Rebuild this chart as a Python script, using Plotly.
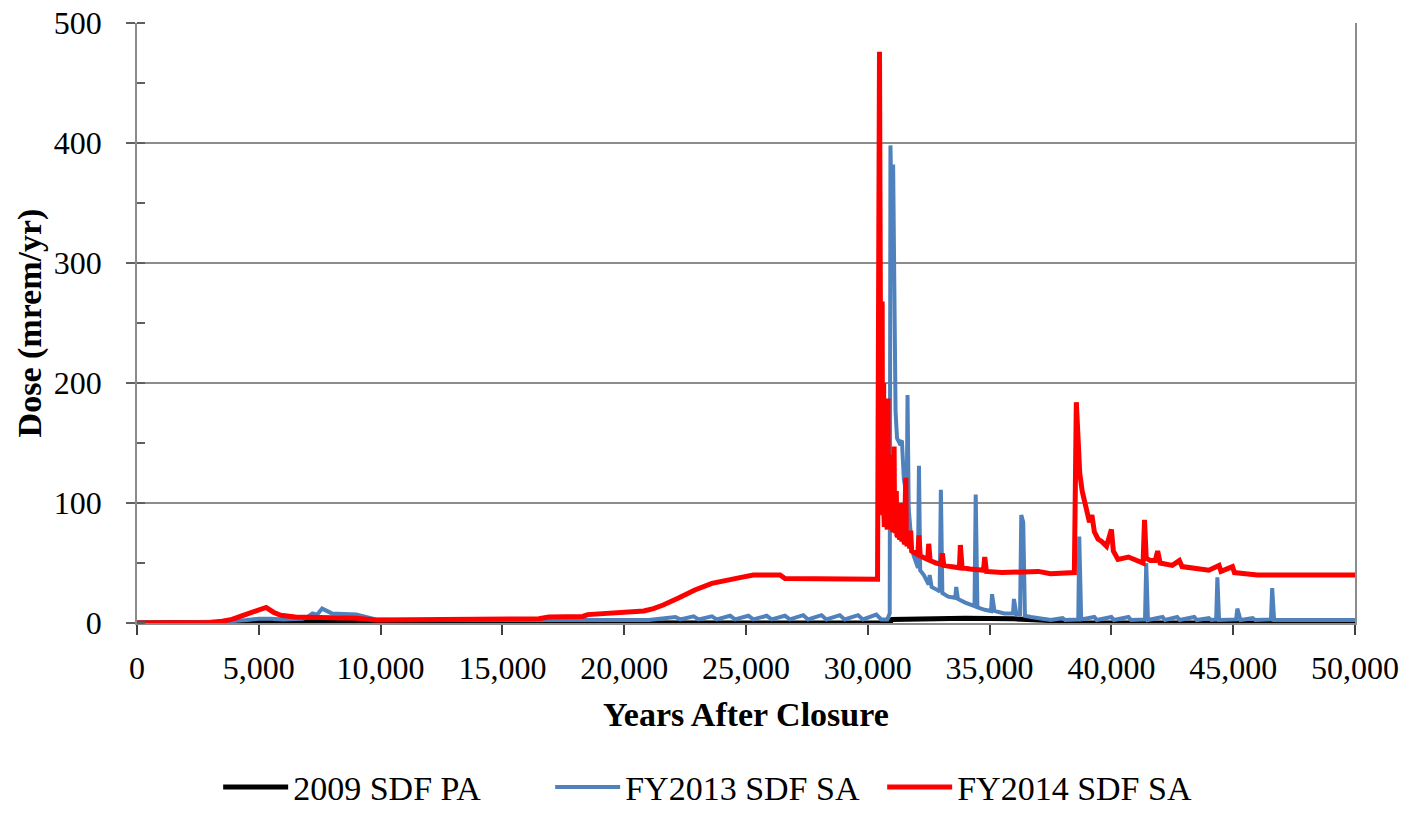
import plotly.graph_objects as go

# ---- data ----
pa2009_x = [0, 4500, 5000, 5500, 6500, 7000, 9000, 9500, 30900, 31000, 34000, 36000, 37500, 38000, 50000]
pa2009_y = [0, 0.5, 1.5, 1, 0.5, 1, 1, 0.3, 0, 3, 4, 3.5, 2, 0, 0]

fy2013_x = [0, 2800, 3500, 4500, 5000, 5500, 6000, 6800, 7000, 7200, 7400, 7600, 7800, 8000, 8500,
            9000, 9400, 9800, 10500, 15000, 20000, 21000,
            22100, 22300, 22850, 23050, 23600, 23800, 24350, 24550, 25100, 25300, 25850, 26050,
            26600, 26800, 27350, 27550, 28100, 28300, 28850, 29050, 29600, 29800, 30350, 30550, 30800,
            30900, 30930, 30990, 31040, 31090, 31140, 31200, 31300, 31400, 31480, 31560, 31600, 31630,
            31680, 31740, 31800, 31900, 32000, 32060, 32100, 32150, 32300, 32450, 32500, 32540, 32620,
            32900, 32950, 33000, 33060, 33300, 33590, 33630, 33700, 34000, 34300, 34380, 34430, 34500,
            34800, 35060, 35100, 35200, 35600, 35960, 36000, 36100, 36250, 36300, 36380, 36450, 36700,
            37000, 37300, 37500, 38000, 38100, 38600, 38640, 38680, 38760, 39300, 39400, 40000, 40100,
            40700, 40800, 41380, 41430, 41500, 42100, 42200, 42700, 42800, 43400, 43500, 44000, 44100,
            44300, 44350, 44420, 45120, 45170, 45300, 45800, 45900, 46550, 46600, 46680, 50000]
fy2013_y = [0, 0.5, 1, 2.5, 3.5, 3.5, 3, 3.5, 5, 8, 7, 12, 10, 8, 7.5,
            7, 5, 3, 2.5, 2.5, 2.5, 2.5,
            5, 3, 5.5, 3, 5.5, 3, 6, 3, 6, 3, 6, 3,
            6, 3, 6.5, 3, 6.5, 3, 6.5, 3, 6.5, 3, 7, 3, 3,
            8, 398, 330, 382, 290, 176, 154, 150, 152, 120, 110, 100, 190,
            95, 80, 62, 55, 48, 46, 131, 44, 40, 33, 32, 40, 30,
            27, 26, 111, 25, 22, 21, 30, 20, 17, 14, 14, 107, 13,
            11, 10, 24, 10, 8, 8, 20, 7, 7, 90, 84, 6, 5,
            4, 3, 2.5, 4, 2.5, 3, 3, 72, 3, 5, 2.5, 5, 2.5,
            5, 2.5, 3, 50, 2.5, 5, 2.5, 5, 2.5, 5, 2.5, 4, 2.5,
            3, 38, 2.5, 3, 12, 2.5, 4, 2.5, 3, 29, 2.5, 2.5]

fy2014_x = [0, 2700, 3000, 3500, 3900, 4300, 4600, 5000, 5300, 5600, 5900, 6500, 7500, 9000, 9800,
            12000, 13000, 16500, 16900, 18300, 18500, 19600, 20000, 20800, 21200, 21600, 22250, 22900,
            23600, 24300, 24800, 25300, 26400, 26600, 28400, 28700, 30400,
            30480, 30510, 30530, 30545, 30560, 30575, 30590, 30605, 30620, 30635, 30650, 30665, 30680,
            30695, 30710, 30725, 30740, 30755, 30770, 30785, 30800, 30815, 30830, 30845, 30860, 30880,
            30900, 30920, 30940, 30965, 30990, 31010, 31030, 31055, 31080, 31100, 31120, 31145, 31170,
            31195, 31220, 31245, 31270, 31290, 31310, 31330, 31350, 31375, 31400, 31435, 31470, 31490,
            31510, 31535, 31560, 31585, 31610, 31680, 31720, 31760, 31800, 31950, 32050, 32100, 32150,
            32350, 32460, 32500, 32560, 32800, 33000, 33060, 33120, 33400, 33760, 33800, 33870, 34200,
            34500, 34750, 34800, 34870, 35500, 36200, 37000, 37500, 38000, 38480,
            38560, 38620, 38700, 38800, 38900, 39000, 39100, 39200, 39300, 39450, 39600, 39800, 40000,
            40080, 40270, 40700, 41000, 41300, 41360, 41430, 41600, 41800, 41900, 42000, 42500, 42790,
            42900, 43500, 44000, 44420, 44500, 44970, 45050, 45500, 46000, 50000]
fy2014_y = [0, 0, 0.5, 1.5, 3, 6, 8, 11, 13, 9, 6.5, 5, 4.5, 4, 2.5,
            2.5, 3, 3.5, 5, 5.5, 7, 8, 9, 10, 12, 15, 21, 27.5,
            33, 36.4, 38, 40, 40, 37, 37, 36.4, 36.4,
            476, 160, 300, 100, 120, 230, 268, 95, 90, 170, 200, 88, 80,
            160, 186, 84, 85, 130, 150, 80, 78, 170, 187, 85, 82, 120,
            140, 80, 80, 115, 120, 78, 76, 125, 147, 80, 75, 100, 110,
            73, 72, 90, 95, 71, 70, 90, 100, 72, 68, 80, 82, 67,
            66, 100, 121, 70, 64, 70, 62, 77, 60, 58, 57, 73, 56,
            54, 53, 66, 52, 50, 49, 58, 48, 47, 46, 65, 46, 45,
            44, 44, 55, 43, 42, 42, 43, 41, 42, 42,
            184, 150, 125, 110, 100, 92, 84, 90, 76, 70, 68, 64, 78,
            60, 53, 55, 52, 50, 86, 54, 52, 52, 60, 50, 48, 52,
            47, 45, 44, 48, 43, 47, 42, 41, 40, 40]

series_names = ["2009 SDF PA", "FY2013 SDF SA", "FY2014 SDF SA"]
x_ticks = [0, 5000, 10000, 15000, 20000, 25000, 30000, 35000, 40000, 45000, 50000]
y_ticks = [0, 100, 200, 300, 400, 500]
x_title = "Years After Closure"
y_title = "Dose (mrem/yr)"

FONT = "Liberation Serif"

fig = go.Figure()
fig.add_trace(go.Scatter(x=pa2009_x, y=pa2009_y, mode="lines", name=series_names[0],
                         line=dict(color="#000000", width=5)))
fig.add_trace(go.Scatter(x=fy2013_x, y=fy2013_y, mode="lines", name=series_names[1],
                         line=dict(color="#4F81BD", width=4)))
fig.add_trace(go.Scatter(x=fy2014_x, y=fy2014_y, mode="lines", name=series_names[2],
                         line=dict(color="#FF0000", width=5)))

fig.update_layout(
    width=1407, height=815,
    margin=dict(l=137, r=52, t=23, b=192, autoexpand=False),
    paper_bgcolor="white", plot_bgcolor="white",
    font=dict(family=FONT, color="black", size=32),
    showlegend=True,
    legend=dict(orientation="h", xref="container", x=0.509, xanchor="center",
                yref="container", y=0.034, yanchor="middle",
                font=dict(family=FONT, size=34, color="black"), itemwidth=65,
                entrywidth=252, entrywidthmode="pixels",
                bgcolor="rgba(0,0,0,0)"),
    annotations=[dict(text="<b>" + x_title + "</b>", xref="paper", yref="paper",
                      x=0.5, y=-0.152, xanchor="center", yanchor="middle",
                      showarrow=False, font=dict(family=FONT, size=34, color="black"))],
)
fig.update_xaxes(
    range=[0, 50000], tickvals=x_ticks, tickformat=",", tickfont=dict(size=32),
    ticks="outside", ticklen=10, tickcolor="#404040", tickwidth=1.5,
    showline=True, linecolor="#8c8c8c", linewidth=1.5, showgrid=False, zeroline=False,
    automargin=False, ticklabelstandoff=6,
)
fig.update_yaxes(
    range=[0, 500], tickvals=y_ticks, tickfont=dict(size=32),
    ticks="outside", ticklen=9, tickcolor="#606060", tickwidth=1.5,
    minor=dict(dtick=50, ticks="inside", ticklen=8, tickcolor="#606060", showgrid=False),
    showline=True, linecolor="#8c8c8c", linewidth=1.5, mirror=True,
    showgrid=True, gridcolor="#8c8c8c", gridwidth=1.5, zeroline=False,
    ticklabelstandoff=18, automargin=False,
    title=dict(text="<b>" + y_title + "</b>", font=dict(size=34), standoff=2),
)

fig.write_html("out.html")
